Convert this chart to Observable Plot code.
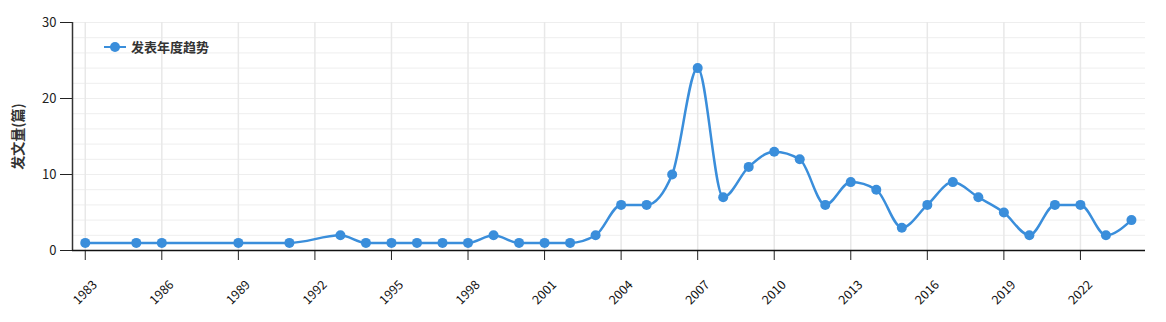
<!DOCTYPE html>
<html>
<head>
<meta charset="utf-8">
<script src="https://cdn.jsdelivr.net/npm/d3@7"></script>
<script src="https://cdn.jsdelivr.net/npm/@observablehq/plot@0.6"></script>
<style>
  body { margin: 0; background: #fff; font-family: "Noto Sans CJK SC", "Noto Sans", sans-serif; }
  #wrap { position: relative; width: 1166px; height: 322px; }
  #legend { position: absolute; left: 104px; top: 37px; display: flex; align-items: center; font-size: 13px; font-weight: bold; color: #333; }
  #legend .sw { position: relative; width: 22px; height: 14px; margin-right: 5px; }
  #legend .sw .ln { position: absolute; left: 0; right: 0; top: 6px; height: 2.5px; background: #3a8edb; }
  #legend .sw .dt { position: absolute; left: 6px; top: 2px; width: 10px; height: 10px; border-radius: 50%; background: #3a8edb; }
</style>
</head>
<body>
<div id="wrap"><div id="legend"><div class="sw"><div class="ln"></div><div class="dt"></div></div><span>发表年度趋势</span></div></div>
<script>
const years = [1983, 1985, 1986, 1989, 1991, 1993, 1994, 1995, 1996, 1997, 1998, 1999, 2000, 2001, 2002, 2003, 2004, 2005, 2006, 2007, 2008, 2009, 2010, 2011, 2012, 2013, 2014, 2015, 2016, 2017, 2018, 2019, 2020, 2021, 2022, 2023, 2024];
const counts = [1, 1, 1, 1, 1, 2, 1, 1, 1, 1, 1, 2, 1, 1, 1, 2, 6, 6, 10, 24, 7, 11, 13, 12, 6, 9, 8, 3, 6, 9, 7, 5, 2, 6, 6, 2, 4];
const xTicks = [1983, 1986, 1989, 1992, 1995, 1998, 2001, 2004, 2007, 2010, 2013, 2016, 2019, 2022];
const yTicks = [0, 10, 20, 30];
const yGrid = [0, 2, 4, 6, 8, 10, 12, 14, 16, 18, 20, 22, 24, 26, 28, 30];
const xDomain = [1982.5, 2024.55];
const yDomain = [0, 30];
const yLabel = "发文量(篇)";
const color = "#3a8edb";

const data = years.map((y, i) => ({year: y, count: counts[i]}));

const chart = Plot.plot({
  width: 1166,
  height: 322,
  marginLeft: 72,
  marginRight: 21,
  marginTop: 22,
  marginBottom: 72,
  style: { fontFamily: "'Noto Sans CJK SC', 'Noto Sans', sans-serif", fontSize: "12px", color: "#222", background: "#fff" },
  x: { type: "linear", domain: xDomain },
  y: { domain: yDomain },
  marks: [
    Plot.ruleY(yGrid, { stroke: "#eeeeee", strokeWidth: 1 }),
    Plot.ruleX(xTicks, { stroke: "#e8e8e8", strokeWidth: 1.5 }),
    Plot.axisY({ ticks: yTicks, tickSize: 12, tickPadding: 4, label: null, fontSize: 13 }),
    Plot.axisX({ ticks: xTicks, tickSize: 10, tickFormat: () => "", label: null }),
    Plot.ruleX([xDomain[0]], { stroke: "#333", strokeWidth: 1.5 }),
    Plot.ruleY([yDomain[0]], { stroke: "#111", strokeWidth: 1.5 }),
    Plot.line(data, { x: "year", y: "count", curve: "monotone-x", stroke: color, strokeWidth: 2.5 }),
    Plot.dot(data, { x: "year", y: "count", r: 5, fill: color }),
    Plot.text(xTicks, { x: d => d, text: d => String(d), frameAnchor: "bottom", textAnchor: "middle", lineAnchor: "middle", dy: 42, rotate: -45, fontSize: 12.5, fill: "#111" }),
    Plot.text([yLabel], { text: d => d, frameAnchor: "left", textAnchor: "middle", lineAnchor: "middle", dx: -54, rotate: -90, fontWeight: "bold", fontSize: 14, fill: "#333" })
  ]
});
document.getElementById("wrap").prepend(chart);
</script>
</body>
</html>
